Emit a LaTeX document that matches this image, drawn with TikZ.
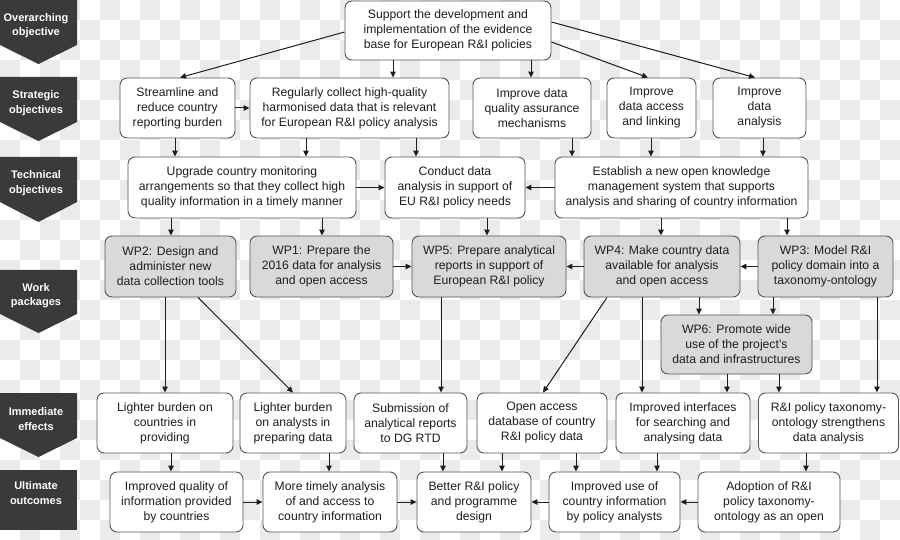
\documentclass[tikz,border=0pt]{standalone}
\usepackage{fontspec}
\setmainfont{Liberation Sans}
\usetikzlibrary{arrows.meta}
\definecolor{checker}{HTML}{EBEBEB}
\definecolor{lblfill}{HTML}{3A3A3A}
\definecolor{boxline}{HTML}{555555}
\definecolor{wpfill}{HTML}{D9D9D9}
\definecolor{arrcol}{HTML}{1E1E1E}
\definecolor{txtcol}{HTML}{1E1E1E}
\begin{document}
\begin{tikzpicture}[x=1pt,y=-1pt,
 box/.style={draw=boxline, line width=0.9pt, rounded corners=7pt, fill=white, align=center, inner sep=0pt, text=txtcol, font=\fontsize{12.2}{15}\selectfont},
 wpbox/.style={box, fill=wpfill},
 arr/.style={draw=arrcol, line width=1pt, -{Triangle[length=6pt,width=5.5pt]}},
 lbl/.style={text=white, align=center, font=\bfseries\fontsize{11}{14.5}\selectfont, inner sep=0pt},
 lblshape/.style={fill=lblfill}]
\useasboundingbox (0,0) rectangle (900,540);
\fill[white] (0,0) rectangle (900,540);
\foreach \i in {0,...,44}{\foreach \j in {0,...,26}{\pgfmathtruncatemacro\cks{\i+\j}\ifodd\cks \fill[checker] (\i*20,\j*20) rectangle ++(20,20);\fi}}

% left labels
\fill[lblshape] (0,0) -- (77,0) -- (77,45) -- (38.5,64) -- (0,45) -- cycle;
\node[lbl] (L1) at (36,25.5) {Overarching\\objective};
\fill[lblshape] (0,77) -- (77,77) -- (77,122) -- (38.5,141) -- (0,122) -- cycle;
\node[lbl] (L2) at (36,103) {Strategic\\objectives};
\fill[lblshape] (0,157) -- (77,157) -- (77,202) -- (38.5,222) -- (0,202) -- cycle;
\node[lbl] (L3) at (36,183) {Technical\\objectives};
\fill[lblshape] (0,270) -- (77,270) -- (77,314) -- (38.5,333) -- (0,314) -- cycle;
\node[lbl] (L4) at (36,295.5) {Work\\packages};
\fill[lblshape] (0,393) -- (77,393) -- (77,438) -- (38.5,457) -- (0,438) -- cycle;
\node[lbl] (L5) at (36,419) {Immediate\\effects};
\fill[lblshape] (0,470) rectangle (77,530);
\node[lbl] (L6) at (36,493) {Ultimate\\outcomes};

% row 0
\node[box, minimum width=206pt, minimum height=59pt] (top) at (448,30.5) {Support the development and\\implementation of the evidence\\base for European R\&I policies};
% row 1
\node[box, minimum width=115pt, minimum height=60pt] (strA) at (177.5,108) {Streamline and\\reduce country\\reporting burden};
\node[box, minimum width=199pt, minimum height=60pt] (strB) at (349.5,108) {Regularly collect high-quality\\harmonised data that is relevant\\for European R\&I policy analysis};
\node[box, minimum width=118pt, minimum height=60pt] (strC) at (532,108) {Improve data\\quality assurance\\mechanisms};
\node[box, minimum width=89pt, minimum height=60pt] (strD) at (651.5,108) {Improve\\data access\\and linking};
\node[box, minimum width=93pt, minimum height=60pt] (strE) at (759.5,108) {Improve\\data\\analysis};
% row 2
\node[box, minimum width=228pt, minimum height=61pt] (tA) at (242,187.5) {Upgrade country monitoring\\arrangements so that they collect high\\quality information in a timely manner};
\node[box, minimum width=140pt, minimum height=61pt] (tB) at (455,187.5) {Conduct data\\analysis in support of\\EU R\&I policy needs};
\node[box, minimum width=253pt, minimum height=61pt] (tC) at (681.5,187.5) {Establish a new open knowledge\\management system that supports\\analysis and sharing of country information};
% row 3
\node[wpbox, minimum width=131pt, minimum height=61pt] (wp2) at (170.5,266.5) {WP2: Design and\\administer new\\data collection tools};
\node[wpbox, minimum width=143pt, minimum height=61pt] (wp1) at (321.5,266.5) {WP1: Prepare the\\2016 data for analysis\\and open access};
\node[wpbox, minimum width=154pt, minimum height=61pt] (wp5) at (489,266.5) {WP5: Prepare analytical\\reports in support of\\European R\&I policy};
\node[wpbox, minimum width=156pt, minimum height=61pt] (wp4) at (662,266.5) {WP4: Make country data\\available for analysis\\and open access};
\node[wpbox, minimum width=135pt, minimum height=61pt] (wp3) at (825.5,266.5) {WP3: Model R\&I\\policy domain into a\\taxonomy-ontology};
\node[wpbox, minimum width=151pt, minimum height=59pt] (wp6) at (736.5,344.5) {WP6: Promote wide\\use of the project’s\\data and infrastructures};
% row 4
\node[box, minimum width=136pt, minimum height=60pt] (iA) at (165,423) {Lighter burden on\\countries in\\providing};
\node[box, minimum width=106pt, minimum height=60pt] (iB) at (293,423) {Lighter burden\\on analysts in\\preparing data};
\node[box, minimum width=113pt, minimum height=60pt] (iC) at (410.5,423) {Submission of\\analytical reports\\to DG RTD};
\node[box, minimum width=130pt, minimum height=60pt] (iD) at (542,423) {Open access\\database of country\\R\&I policy data};
\node[box, minimum width=134pt, minimum height=60pt] (iE) at (683,423) {Improved interfaces\\for searching and\\analysing data};
\node[box, minimum width=140pt, minimum height=60pt] (iF) at (828.5,423) {R\&I policy taxonomy-\\ontology strengthens\\data analysis};
% row 5
\node[box, minimum width=133pt, minimum height=60pt] (uA) at (176.5,502) {Improved quality of\\information provided\\by countries};
\node[box, minimum width=134pt, minimum height=60pt] (uB) at (330,502) {More timely analysis\\of and access to\\country information};
\node[box, minimum width=114pt, minimum height=60pt] (uC) at (474,502) {Better R\&I policy\\and programme\\design};
\node[box, minimum width=131pt, minimum height=60pt] (uD) at (614.5,502) {Improved use of\\country information\\by policy analysts};
\node[box, minimum width=142pt, minimum height=60pt] (uE) at (769,502) {Adoption of R\&I\\policy taxonomy-\\ontology as an open};

% arrows from top
\draw[arr] (top.west |- 0,32) -- (strA.north -| 180,0);
\draw[arr] (top.south -| 393,0) -- (strB.north -| 393,0);
\draw[arr] (top.south -| 531,0) -- (strC.north -| 531,0);
\draw[arr] (top.east |- 0,42) -- (strD.north -| 648,0);
\draw[arr] (top.east |- 0,22) -- (strE.north -| 755,0);
\draw[arr] (strA.east) -- (strB.west);
% strategic -> technical
\draw[arr] (strA.south -| 175,0) -- (tA.north -| 175,0);
\draw[arr] (strB.south -| 306,0) -- (tA.north -| 306,0);
\draw[arr] (strB.south -| 416,0) -- (tB.north -| 416,0);
\draw[arr] (strC.south -| 572,0) -- (tC.north -| 572,0);
\draw[arr] (strD.south -| 651,0) -- (tC.north -| 651,0);
\draw[arr] (strE.south -| 763,0) -- (tC.north -| 763,0);
\draw[arr] (tA.east) -- (tB.west);
\draw[arr] (tC.west) -- (tB.east);
% technical -> WP
\draw[arr] (tA.south -| 171,0) -- (wp2.north -| 171,0);
\draw[arr] (tA.south -| 322,0) -- (wp1.north -| 322,0);
\draw[arr] (tB.south -| 487,0) -- (wp5.north -| 487,0);
\draw[arr] (tC.south -| 661,0) -- (wp4.north -| 661,0);
\draw[arr] (tC.south -| 787,0) -- (wp3.north -| 787,0);
\draw[arr] (wp1.east) -- (wp5.west);
\draw[arr] (wp4.west) -- (wp5.east);
\draw[arr] (wp3.west) -- (wp4.east);
% WP -> immediate
\draw[arr] (wp2.south -| 165,0) -- (iA.north -| 165,0);
\draw[arr] (wp2.south -| 198,0) -- (iB.north -| 293,0);
\draw[arr] (wp5.south -| 441,0) -- (iC.north -| 441,0);
\draw[arr] (wp4.south -| 607,0) -- (iD.north -| 543,0);
\draw[arr] (wp4.south -| 642,0) -- (iE.north -| 642,0);
\draw[arr] (wp4.south -| 699,0) -- (wp6.north -| 699,0);
\draw[arr] (wp3.south -| 773,0) -- (wp6.north -| 773,0);
\draw[arr] (wp3.south -| 877,0) -- (iF.north -| 877,0);
\draw[arr] (wp6.south -| 727,0) -- (iE.north -| 727,0);
\draw[arr] (wp6.south -| 779,0) -- (iF.north -| 779,0);
% immediate -> ultimate
\draw[arr] (iA.south -| 171,0) -- (uA.north -| 171,0);
\draw[arr] (iB.south -| 329,0) -- (uB.north -| 329,0);
\draw[arr] (iC.south -| 443,0) -- (uC.north -| 443,0);
\draw[arr] (iD.south -| 502,0) -- (uC.north -| 502,0);
\draw[arr] (iD.south -| 576,0) -- (uD.north -| 576,0);
\draw[arr] (iE.south -| 657,0) -- (uD.north -| 657,0);
\draw[arr] (iF.south -| 806,0) -- (uE.north -| 806,0);
\draw[arr] (uA.east) -- (uB.west);
\draw[arr] (uB.east) -- (uC.west);
\draw[arr] (uD.west) -- (uC.east);
\draw[arr] (uE.west) -- (uD.east);
\end{tikzpicture}
\end{document}
